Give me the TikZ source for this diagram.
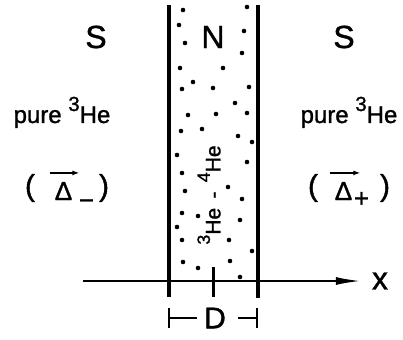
\documentclass[tikz,border=0pt]{standalone}
\usepackage{fontspec}
\setmainfont{Liberation Sans}[UprightFeatures={FakeBold=1.2}]
\usepackage{graphicx}
\usetikzlibrary{arrows.meta,positioning}

\newcommand\iso[1]{\raisebox{0.5em}{\scalebox{0.85}{#1}}}

\tikzset{
  wall/.style={line width=3.5pt},
  region/.style={inner sep=0pt,font=\fontsize{32}{34}\selectfont},
  lbl/.style={inner sep=0pt,font=\fontsize{24}{26}\selectfont},
  gap/.style={inner sep=0pt,font=\fontsize{26}{28}\selectfont},
  paren/.style={inner sep=0pt,font=\fontsize{30}{32}\selectfont},
  vec/.style={line width=1.6pt,-{Latex[length=7pt,width=5pt]}},
  axis/.style={line width=2.4pt,-{Latex[length=26pt,width=8pt]}},
  dim/.style={line width=2pt,{Bar[width=20pt,line width=2pt]}-},
}

\begin{document}
\begin{tikzpicture}[x=1pt,y=-1pt]
  \useasboundingbox (0,0) rectangle (403,339);
  % walls of the N layer
  \coordinate (lt) at (169,5);  \coordinate (lb) at (169,297);
  \coordinate (rt) at (258,5);  \coordinate (rb) at (258,298);
  \draw[wall] (lt) -- (lb);
  \draw[wall] (rt) -- (rb);
  % 3He-4He mixture
  \foreach \px/\py in {183/10,247/7,179/25,244/31,185/43,242/53,180/68,223/68,182/89,193/82,
                       213/88,249/87,235/103,188/115,216/114,247/113,181/131,202/129,238/136,252/142,
                       177/155,247/162,182/173,185/191,228/187,242/199,182/213,198/216,240/220,177/227,
                       182/240,229/240,252/251,183/262,198/268,230/261,240/277}
    \fill (\px,\py) circle (2.3);
  % labels
  \node[region] (sl) at (96,37) {S};
  \node[region] (nn) at (213,37) {N};
  \node[region] (sr) at (344,37) {S};
  \node[lbl,anchor=base] (pl) at (62,123) {pure \iso{3}He};
  \node[lbl,anchor=base] (pr) at (349,123) {pure \iso{3}He};
  % order parameters
  \node[gap,anchor=base] (gl) at (63.5,200) {Δ};
  \node[gap,anchor=base] (ml) at (86.5,209) {−};
  \node[paren] (pal) at (30,188) {(};
  \node[paren] (pbl) at (104,188) {)};
  \draw[vec] ([xshift=-5pt,yshift=9pt]gl.north west) -- ([xshift=7pt,yshift=9pt]gl.north east);
  \node[gap,anchor=base] (gr) at (343.5,200) {Δ};
  \node[gap,anchor=base] (mr) at (361.5,207) {+};
  \node[paren] (par) at (313,188) {(};
  \node[paren] (pbr) at (385,188) {)};
  \draw[vec] ([xshift=-5pt,yshift=9pt]gr.north west) -- ([xshift=8pt,yshift=9pt]gr.north east);
  \node[lbl,rotate=90,font=\fontsize{21}{23}\selectfont] (mix) at (209,195)
    {\iso{3}He\, - \,\iso{4}He};
  % x axis
  \coordinate (ax0) at (83,281);
  \node[region] (xl) at (380,281) {x};
  \draw[axis,shorten >=10pt] (ax0) -- (xl.west);
  \coordinate (mt) at (213,267); \coordinate (mb) at (213,297);
  \draw[line width=3pt] (mt) -- (mb);
  % width D
  \node[region,font=\fontsize{30}{32}\selectfont] (dd) at (215,318) {D};
  \coordinate (dL) at (168,318); \coordinate (dR) at (258,318);
  \draw[dim,shorten >=7pt] (dL) -- (dd.west);
  \draw[dim,shorten >=12pt] (dR) -- (dd.east);
\end{tikzpicture}
\end{document}
